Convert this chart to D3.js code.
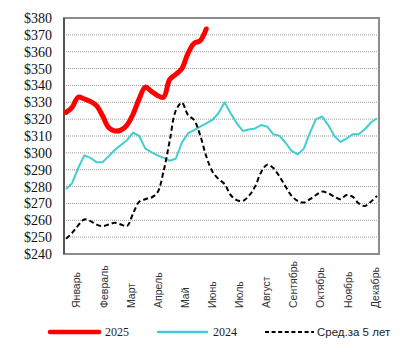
<!DOCTYPE html>
<html>
<head>
<meta charset="utf-8">
<script src="https://cdn.jsdelivr.net/npm/d3@7"></script>
<style>
  body { margin: 0; background: #fff; }
  svg { display: block; }
</style>
</head>
<body>
<svg id="chart"></svg>
<script>
// Month labels on the x axis
const months = ["Январь", "Февраль", "Март", "Апрель", "Май", "Июнь",
  "Июль", "Август", "Сентябрь", "Октябрь", "Ноябрь", "Декабрь"]

// Y ticks ($)
const yTicks = [240, 250, 260, 270, 280, 290, 300, 310, 320, 330, 340, 350, 360, 370, 380]

// Weekly values
const series2025 = [324, 327, 333, 332, 330.5, 328, 322, 315, 313, 313.5, 316.5, 323,
  332, 339, 336.5, 334, 333, 343.5, 346.5, 350, 359, 365, 366.5, 373.5]

const series2024 = [278.5, 282, 291, 298.5, 297, 294.5, 294.5, 298, 301.7, 304.7, 307.5, 312,
  310, 302.5, 300.5, 298.5, 297, 295.3, 296.5, 306, 311.5, 313.5, 315.5, 317.5,
  319.5, 323.5, 330, 323.5, 317.5, 313, 313.8, 314.5, 316.5, 315.5, 311, 310.2,
  306, 301.2, 299.1, 302.5, 312, 320, 321.5, 316.5, 310, 306.5, 308.5, 311,
  311, 314, 318, 320.5]

const series5yr = [249, 252.5, 257, 260.5, 259.5, 257.5, 256.5, 257.5, 258.5, 257.5, 256.5, 264,
  271, 272.5, 273.5, 276.5, 289, 307, 325, 329.8, 322.5, 319.5, 310.5, 298,
  289, 284.5, 281.5, 275, 272, 271.5, 274.5, 280, 288.5, 293, 291, 286,
  280, 274.5, 271.5, 270.5, 272.5, 275, 277, 276, 274, 272.5, 275, 274,
  270, 268.5, 271, 274.5]

const legendNames = ["2025", "2024", "Сред.за 5 лет"]

const width = 405, height = 363
const margin = { top: 18, left: 64 }
const widthPlot = 315, heightPlot = 236

const svg = d3.select('#chart').attr("width", width).attr("height", height)

const chart = svg.append('g').attr("transform", `translate(${margin.left}, ${margin.top})`)

const weeks = d3.range(52)
const x = d3.scaleLinear().domain([0, 51]).range([2, 313])
const y = d3.scaleLinear().domain([240, 380]).range([heightPlot, 0])
const xMonth = d3.scalePoint().domain(months).range([12.7, 311])

// Dotted gridlines
chart.append("g")
  .selectAll("line")
  .data(yTicks.filter(t => t > 240 && t < 380))
  .join("line")
  .attr("x1", 0).attr("x2", widthPlot)
  .attr("y1", d => y(d)).attr("y2", d => y(d))
  .attr("stroke", "#9a9a9a")
  .attr("stroke-width", 1)
  .attr("stroke-dasharray", "1,1")

// Plot frame
chart.append("rect")
  .attr("x", 0).attr("y", 0)
  .attr("width", widthPlot).attr("height", heightPlot)
  .attr("fill", "none")
  .attr("stroke", "#8c8c8c")
  .attr("stroke-width", 2)
chart.append("line")
  .attr("x1", 0).attr("x2", 0).attr("y1", 0).attr("y2", heightPlot)
  .attr("stroke", "#555").attr("stroke-width", 2)

// Y axis labels
const yAxis = chart.append("g").call(d3.axisLeft(y).tickValues(yTicks).tickSize(0).tickPadding(12).tickFormat(d => "$" + d))
yAxis.select(".domain").remove()
yAxis.selectAll("text")
  .attr("font-family", "'Liberation Serif', 'Times New Roman', serif")
  .attr("font-size", 14)
  .attr("fill", "#111")

// X axis month labels (rotated)
chart.append("g")
  .selectAll("text")
  .data(months)
  .join("text")
  .attr("transform", d => `translate(${xMonth(d)}, ${heightPlot + 54}) rotate(-90)`)
  .attr("dy", "0.35em")
  .attr("text-anchor", "start")
  .attr("font-family", "'Liberation Sans', Arial, sans-serif")
  .attr("font-size", 10.5)
  .attr("fill", "#333")
  .text(d => d)

// Lines
const lineLinear = d3.line().x((d, i) => x(i)).y(d => y(d))
const lineSmooth = d3.line().x((d, i) => x(i)).y(d => y(d)).curve(d3.curveCatmullRom)

chart.append("path")
  .datum(series2024)
  .attr("d", lineLinear)
  .attr("fill", "none")
  .attr("stroke", "#3fcfcf")
  .attr("stroke-width", 2)
  .attr("stroke-linejoin", "round")

chart.append("path")
  .datum(series5yr)
  .attr("d", lineSmooth)
  .attr("fill", "none")
  .attr("stroke", "#000")
  .attr("stroke-width", 2)
  .attr("stroke-dasharray", "5,3")

chart.append("path")
  .datum(series2025)
  .attr("d", lineSmooth)
  .attr("fill", "none")
  .attr("stroke", "#ff0000")
  .attr("stroke-width", 5)
  .attr("stroke-linejoin", "round")
  .attr("stroke-linecap", "round")

// Legend
const legend = svg.append("g").attr("transform", "translate(0, 332)")
const legendItems = [
  { name: legendNames[0], x: 50, color: "#ff0000", w: 4.5, dash: null, font: "'Liberation Serif', serif", size: 12 },
  { name: legendNames[1], x: 158, color: "#3fcfcf", w: 2.5, dash: null, font: "'Liberation Serif', serif", size: 12 },
  { name: legendNames[2], x: 265, color: "#000", w: 2, dash: "4,2.6", font: "'Liberation Sans', Arial, sans-serif", size: 11.5 }
]
legendItems.forEach(item => {
  legend.append("line")
    .attr("x1", item.x).attr("x2", item.x + 49)
    .attr("y1", 0).attr("y2", 0)
    .attr("stroke", item.color)
    .attr("stroke-width", item.w)
    .attr("stroke-linecap", item.dash ? "butt" : "round")
    .attr("stroke-dasharray", item.dash)
  legend.append("text")
    .attr("x", item.x + (item.dash ? 52 : 55))
    .attr("y", 4)
    .attr("font-family", item.font)
    .attr("font-size", item.size)
    .attr("fill", "#222")
    .text(item.name)
})
</script>
</body>
</html>
